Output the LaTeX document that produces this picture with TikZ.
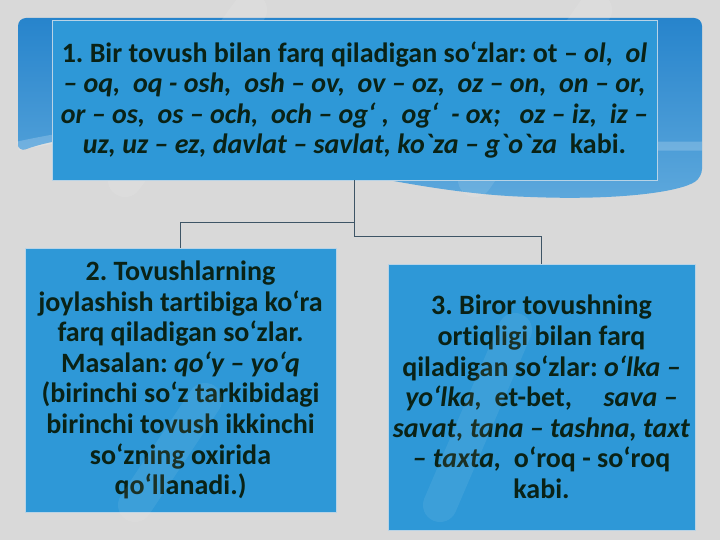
\documentclass[tikz,border=0pt]{standalone}
\usepackage{fontspec}
\usepackage{tikz}
\newfontfamily\uzfont{Carlito}[Ligatures=NoCommon]
\frenchspacing
\definecolor{fondo}{HTML}{D9D9D9}
\definecolor{banda}{HTML}{2784CC}
\definecolor{bandaclara}{HTML}{5DA8DC}
\definecolor{caja}{HTML}{2E98D7}
\definecolor{borde}{HTML}{B8D3E6}
\definecolor{letra}{HTML}{0A2216}
\definecolor{linea}{HTML}{3E5566}

\begin{document}
\begin{tikzpicture}[x=1pt,y=-1pt,
    caja/.style={draw=borde,line width=0.8pt,fill=caja,inner sep=0pt,align=center,
      text=letra,font=\uzfont\bfseries\fontsize{28}{30.6}\selectfont},
    enlace/.style={draw=linea,line width=1.3pt},
    marca/.style={white,opacity=0.1,line width=34pt,line cap=round}]
            % Fondo
            \useasboundingbox (0,0) rectangle (720,540);
            \fill[fondo] (0,0) rectangle (720,540);
            \shade[top color=banda,bottom color=bandaclara,rounded corners=8pt]
              (18,152) -- (18,18) -- (702,18) -- (702,177)
              .. controls (680,192) and (620,200) .. (530,197)
              .. controls (350,190) and (150,105) .. (18,152) -- cycle;
            \draw[white,opacity=0.2,line width=9pt] (18,146) .. controls (250,95) and (500,150) .. (702,146);
            % Marcas de agua
            \draw[marca] (250,10) -- (125,180);
            \draw[marca] (595,10) -- (475,180);

            % Caja superior
            \node[caja,minimum width=605pt,minimum height=160pt] (uno) at (354.5,100)
              {1. Bir tovush bilan farq qiladigan so‘zlar: ot – \textit{ol},\ \ \textit{ol}\\
               \textit{– oq,\ \ oq - osh,\ \ osh – ov,\ \ ov – oz,\ \ oz – on,\ \ on – or,}\\
               \textit{or – os,\ \ os – och,\ \ och – og‘ ,\ \ og‘\ \ - ox;\ \ \ oz – iz,\ \ iz –}\\
               \textit{uz, uz – ez, davlat – savlat, ko`za – g`o`za}\ \ kabi.};

            % Cajas inferiores
            \node[caja,minimum width=311pt,minimum height=264pt] (dos) at (180.5,380)
              {2. Tovushlarning\\ joylashish tartibiga ko‘ra\\ farq qiladigan so‘zlar.\\
               Masalan: \textit{qo‘y – yo‘q}\\ (birinchi so‘z tarkibidagi\\
               birinchi tovush ikkinchi\\ so‘zning oxirida\\ qo‘llanadi.)};
            \node[caja,minimum width=307pt,minimum height=266pt] (tres) at (541.5,397)
              {3. Biror tovushning\\ ortiqligi bilan farq\\ qiladigan so‘zlar: \textit{o‘lka –}\\
               \textit{yo‘lka,}\ \ et-bet,\ \ \ \ \ \textit{sava –}\\ \textit{savat, tana – tashna, taxt}\\
               \textit{– taxta,}\ \ o‘roq - so‘roq\\ kabi.};
            \draw[marca,opacity=0.07] (205,400) -- (135,505);
            \draw[marca,opacity=0.07] (515,330) -- (440,505);

            % Enlaces
            \draw[enlace] (uno.south) -- ++(0,42) -| (dos.north);
            \draw[enlace] (uno.south) -- ++(0,56) -| (tres.north);
        \end{tikzpicture}
\end{document}
